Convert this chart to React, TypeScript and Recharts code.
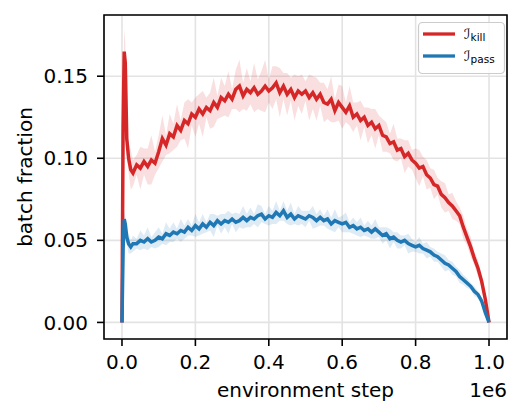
import { ComposedChart, Line, Area, XAxis, YAxis, CartesianGrid, ReferenceArea, Label } from 'recharts'

const RED = '#d62728'
const BLUE = '#1f77b4'
const FONT = '"DejaVu Sans", sans-serif'

// environment steps: a dense start for the spike, then every 10k
const earlySteps = [0, 3000, 6000, 9000, 13000, 18000, 24000, 30000]
const steps = [...earlySteps, ...Array.from({ length: 97 }, (_, i) => 40000 + i * 10000)]

const killMean = [
    0, 0.118, 0.165, 0.158, 0.112, 0.100, 0.093, 0.091,
    0.096, 0.094, 0.098, 0.095, 0.099, 0.097, 0.104, 0.112, 0.108, 0.115,
    0.113, 0.120, 0.117, 0.123, 0.121, 0.127, 0.125, 0.130, 0.127, 0.131,
    0.129, 0.134, 0.131, 0.137, 0.135, 0.139, 0.136, 0.142, 0.144, 0.138,
    0.142, 0.140, 0.143, 0.139, 0.141, 0.144, 0.141, 0.143, 0.146, 0.140,
    0.144, 0.139, 0.142, 0.137, 0.141, 0.139, 0.141, 0.137, 0.140, 0.136,
    0.139, 0.134, 0.133, 0.136, 0.129, 0.134, 0.131, 0.128, 0.132, 0.125,
    0.127, 0.123, 0.125, 0.120, 0.122, 0.118, 0.120, 0.114, 0.113, 0.109,
    0.110, 0.105, 0.106, 0.101, 0.103, 0.099, 0.097, 0.094, 0.095, 0.090,
    0.088, 0.084, 0.083, 0.078, 0.076, 0.073, 0.071, 0.068, 0.065, 0.058,
    0.052, 0.046, 0.039, 0.033, 0.025, 0.014, 0,
]

const killStd = [
    0, 0.010, 0.014, 0.012, 0.010, 0.009, 0.012, 0.008,
    0.006, 0.013, 0.008, 0.011, 0.015, 0.007, 0.010, 0.014, 0.006, 0.012,
    0.008, 0.013, 0.006, 0.011, 0.015, 0.007, 0.012, 0.009, 0.014, 0.006,
    0.011, 0.015, 0.007, 0.012, 0.009, 0.014, 0.006, 0.012, 0.016, 0.008,
    0.013, 0.007, 0.015, 0.009, 0.012, 0.016, 0.007, 0.013, 0.010, 0.015,
    0.008, 0.013, 0.007, 0.014, 0.009, 0.012, 0.006, 0.014, 0.010, 0.013,
    0.007, 0.012, 0.009, 0.014, 0.007, 0.011, 0.013, 0.006, 0.012, 0.009,
    0.007, 0.012, 0.006, 0.011, 0.008, 0.012, 0.006, 0.010, 0.009, 0.006,
    0.011, 0.007, 0.006, 0.010, 0.008, 0.006, 0.009, 0.011, 0.006, 0.009,
    0.006, 0.009, 0.005, 0.008, 0.009, 0.005, 0.008, 0.006, 0.005, 0.007,
    0.005, 0.006, 0.004, 0.005, 0.003, 0.002, 0,
]

const passMean = [
    0, 0.045, 0.063, 0.060, 0.052, 0.048, 0.046, 0.048,
    0.048, 0.050, 0.049, 0.051, 0.049, 0.050, 0.052, 0.051, 0.054, 0.053,
    0.055, 0.054, 0.056, 0.055, 0.058, 0.056, 0.059, 0.057, 0.060, 0.058,
    0.061, 0.059, 0.062, 0.060, 0.062, 0.061, 0.063, 0.061, 0.062, 0.064,
    0.062, 0.064, 0.063, 0.065, 0.066, 0.063, 0.065, 0.064, 0.067, 0.065,
    0.068, 0.064, 0.066, 0.063, 0.065, 0.064, 0.063, 0.065, 0.064, 0.062,
    0.064, 0.062, 0.063, 0.060, 0.062, 0.061, 0.060, 0.061, 0.058, 0.059,
    0.057, 0.058, 0.056, 0.057, 0.055, 0.057, 0.055, 0.053, 0.054, 0.051,
    0.052, 0.050, 0.049, 0.050, 0.048, 0.047, 0.046, 0.047, 0.045, 0.044,
    0.043, 0.041, 0.040, 0.038, 0.036, 0.035, 0.033, 0.031, 0.028, 0.026,
    0.024, 0.022, 0.019, 0.017, 0.013, 0.006, 0,
]

const passStd = [
    0, 0.004, 0.005, 0.005, 0.004, 0.006, 0.004, 0.005,
    0.003, 0.006, 0.004, 0.007, 0.003, 0.005, 0.006, 0.003, 0.007, 0.004,
    0.006, 0.003, 0.007, 0.004, 0.005, 0.003, 0.007, 0.004, 0.006, 0.003,
    0.005, 0.007, 0.003, 0.006, 0.004, 0.007, 0.003, 0.006, 0.004, 0.007,
    0.004, 0.006, 0.003, 0.007, 0.005, 0.003, 0.006, 0.004, 0.007, 0.003,
    0.006, 0.004, 0.007, 0.003, 0.006, 0.004, 0.005, 0.003, 0.007, 0.004,
    0.005, 0.003, 0.006, 0.004, 0.007, 0.003, 0.005, 0.006, 0.003, 0.005,
    0.004, 0.006, 0.003, 0.005, 0.004, 0.006, 0.003, 0.005, 0.004, 0.006,
    0.003, 0.005, 0.004, 0.003, 0.006, 0.004, 0.003, 0.005, 0.003, 0.005,
    0.003, 0.004, 0.003, 0.004, 0.005, 0.003, 0.004, 0.003, 0.004, 0.003,
    0.003, 0.002, 0.003, 0.002, 0.002, 0.001, 0,
]

const xTicks = [0, 200000, 400000, 600000, 800000, 1000000]
const yTicks = [0, 0.05, 0.1, 0.15]
const xDomain = [-49000, 1049000]
const yDomain = [-0.0101, 0.1873]

const data = steps.map((step, i) => ({
    step,
    kill: killMean[i],
    pass: passMean[i],
    killBand: [killMean[i] - killStd[i], killMean[i] + killStd[i]],
    passBand: [passMean[i] - passStd[i], passMean[i] + passStd[i]],
}))

const tickStyle = { fill: '#000', fontSize: 20, fontFamily: FONT }
const tickLine = { stroke: '#000', strokeWidth: 1.6 }

function LegendBox() {
    return (
        <svg width={527} height={419} style={{ position: 'absolute', left: 0, top: 0, pointerEvents: 'none' }}>
            <rect x={418.5} y={22.5} width={86} height={51} rx={4} fill="rgba(255,255,255,0.8)" stroke="#cccccc" strokeWidth={1.2} />
            <line x1={423} x2={455} y1={34} y2={34} stroke={RED} strokeWidth={3.3} />
            <line x1={423} x2={455} y1={56} y2={56} stroke={BLUE} strokeWidth={3.3} />
            <text x={464} y={39} fontFamily={FONT} fontSize={14} fontStyle="italic" fill="#000">
                ℐ<tspan fontStyle="normal" fontSize={10.5} dy={2}>kill</tspan>
            </text>
            <text x={464} y={61} fontFamily={FONT} fontSize={14} fontStyle="italic" fill="#000">
                ℐ<tspan fontStyle="normal" fontSize={10.5} dy={2}>pass</tspan>
            </text>
        </svg>
    )
}

export default function App() {
    return (
        <div style={{ position: 'relative', width: 527, height: 419, background: '#fff' }}>
            <style>{'body{margin:0}'}</style>
            <ComposedChart width={527} height={419} data={data} margin={{ top: 15, right: 20, bottom: 0, left: 0 }}>
                <CartesianGrid stroke="#e3e3e3" strokeWidth={1.6} />
                <XAxis dataKey="step" type="number" domain={xDomain} allowDataOverflow ticks={xTicks} interval={0}
                    tickFormatter={(v: number) => (v / 1e6).toFixed(1)} tick={tickStyle} tickLine={tickLine}
                    tickSize={7} tickMargin={9} axisLine={false} height={80}>
                    <Label content={(props: any) => {
                        const vb = props.viewBox
                        return (
                            <g>
                                <text x={vb.x + vb.width / 2} y={vb.y + 58} textAnchor="middle" fontFamily={FONT} fontSize={20} fill="#000">environment step</text>
                                <text x={vb.x + vb.width} y={vb.y + 58} textAnchor="end" fontFamily={FONT} fontSize={20} fill="#000">1e6</text>
                            </g>
                        )
                    }} />
                </XAxis>
                <YAxis type="number" domain={yDomain} allowDataOverflow ticks={yTicks} interval={0}
                    tickFormatter={(v: number) => v.toFixed(2)} tick={tickStyle} tickLine={tickLine}
                    tickSize={7} tickMargin={9} axisLine={false} width={104}>
                    <Label content={(props: any) => {
                        const vb = props.viewBox
                        const cx = vb.x + 32
                        const cy = vb.y + vb.height / 2
                        return (
                            <text x={cx} y={cy} transform={`rotate(-90, ${cx}, ${cy})`} textAnchor="middle" fontFamily={FONT} fontSize={20} fill="#000">batch fraction</text>
                        )
                    }} />
                </YAxis>
                <Area dataKey="killBand" type="linear" stroke="none" fill={RED} fillOpacity={0.15} isAnimationActive={false} />
                <Line dataKey="kill" type="linear" stroke={RED} strokeWidth={3.5} dot={false} isAnimationActive={false} />
                <Area dataKey="passBand" type="linear" stroke="none" fill={BLUE} fillOpacity={0.15} isAnimationActive={false} />
                <Line dataKey="pass" type="linear" stroke={BLUE} strokeWidth={3.5} dot={false} isAnimationActive={false} />
                <ReferenceArea x1={xDomain[0]} x2={xDomain[1]} y1={yDomain[0]} y2={yDomain[1]} fill="none" stroke="#000" strokeWidth={1.6} />
            </ComposedChart>
            <LegendBox />
        </div>
    )
}
